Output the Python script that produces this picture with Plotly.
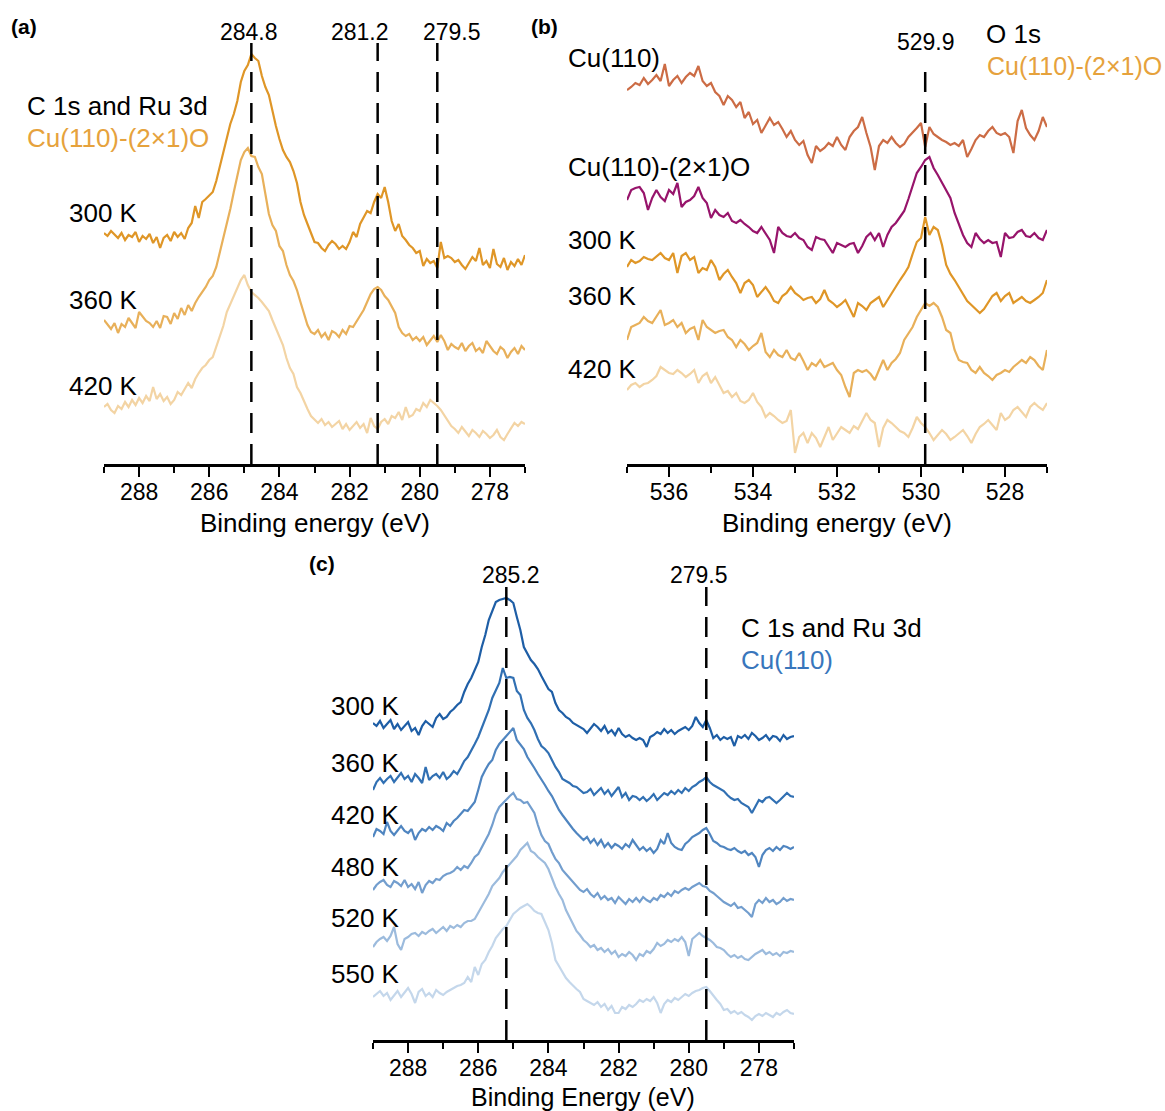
import numpy as np
import plotly.graph_objects as go

W, H = 1165, 1111
FONT = "Liberation Sans, Arial, Helvetica, sans-serif"

# Binding-energy grids (eV), sampled every 0.1 eV from high to low
E_C1S = np.round(np.linspace(289.0, 277.0, 121), 1)
E_O1S = np.round(np.linspace(537.0, 527.0, 101), 1)

# ---- (a) C 1s and Ru 3d, Cu(110)-(2x1)O, stacked intensity (arb. units)
A_300K = [231, 228, 233, 229, 226, 231, 224, 229, 227, 232,
          222, 228, 225, 230, 221, 227, 216, 226, 229, 223,
          232, 227, 231, 225, 236, 241, 258, 246, 262, 265,
          269, 272, 283, 298, 313, 327, 340, 350, 363, 382,
          393, 399, 410, 406, 403, 388, 377, 369, 352, 338,
          325, 314, 307, 302, 293, 281, 262, 249, 240, 230,
          222, 221, 216, 213, 219, 223, 220, 215, 218, 215,
          222, 232, 227, 240, 246, 253, 251, 262, 270, 266,
          277, 262, 243, 233, 240, 228, 224, 219, 216, 211,
          213, 198, 205, 201, 203, 196, 222, 206, 208, 206,
          202, 204, 199, 195, 201, 207, 203, 216, 199, 203,
          196, 215, 200, 197, 206, 194, 202, 198, 205, 199,
          209]
A_360K = [144, 139, 135, 141, 131, 140, 137, 146, 141, 136,
          152, 147, 143, 141, 137, 143, 136, 148, 147, 140,
          151, 145, 156, 149, 159, 153, 161, 167, 172, 177,
          184, 188, 197, 211, 226, 238, 255, 272, 287, 304,
          312, 316, 308, 307, 297, 290, 270, 250, 239, 233,
          218, 213, 199, 189, 183, 174, 162, 151, 139, 132,
          130, 134, 127, 131, 124, 133, 131, 127, 134, 130,
          138, 137, 143, 148, 154, 162, 170, 175, 177, 174,
          168, 164, 158, 151, 137, 131, 128, 130, 124, 127,
          123, 127, 119, 124, 128, 122, 129, 123, 114, 120,
          117, 115, 121, 113, 118, 121, 113, 116, 111, 123,
          118, 113, 110, 117, 114, 106, 112, 116, 110, 118,
          114]
A_420K = [57, 60, 54, 51, 58, 55, 62, 57, 64, 59,
          66, 61, 68, 63, 77, 65, 70, 63, 67, 60,
          64, 72, 69, 75, 81, 76, 85, 91, 96, 99,
          104, 107, 118, 128, 138, 152, 160, 168, 175, 184,
          189, 179, 172, 169, 166, 162, 158, 153, 144, 136,
          128, 119, 106, 96, 90, 77, 71, 62, 55, 48,
          44, 41, 45, 39, 42, 37, 40, 43, 35, 40,
          34, 38, 42, 36, 40, 31, 46, 38, 35, 42,
          45, 40, 48, 46, 52, 44, 57, 47, 49, 55,
          53, 61, 57, 64, 61, 58, 54, 49, 44, 38,
          35, 31, 37, 33, 28, 34, 31, 27, 33, 30,
          26, 29, 34, 27, 24, 30, 36, 41, 38, 42,
          40]

# ---- (b) O 1s, stacked intensity (arb. units)
B_CU110 = [374, 377, 381, 379, 386, 380, 384, 389, 383, 400,
           378, 384, 388, 381, 387, 391, 388, 398, 383, 378,
           381, 372, 368, 359, 368, 364, 357, 362, 346, 352,
           340, 344, 331, 338, 346, 339, 342, 335, 327, 333,
           324, 319, 323, 309, 301, 318, 313, 316, 321, 318,
           327, 319, 314, 327, 333, 337, 347, 331, 317, 294,
           318, 324, 321, 327, 321, 317, 320, 327, 331, 336,
           341, 317, 337, 330, 327, 324, 322, 319, 321, 318,
           324, 307, 315, 324, 329, 327, 333, 337, 331, 329,
           331, 327, 311, 343, 354, 336, 329, 324, 333, 347,
           337]
B_CU110_O = [264, 274, 276, 277, 271, 254, 266, 274, 267, 263,
             274, 270, 281, 257, 262, 264, 268, 277, 266, 261,
             246, 254, 249, 247, 251, 243, 241, 244, 240, 237,
             233, 231, 237, 230, 224, 211, 237, 231, 228, 227,
             231, 226, 224, 217, 214, 227, 225, 224, 218, 211,
             221, 219, 217, 220, 221, 211, 218, 227, 231, 224,
             231, 217, 229, 237, 241, 247, 253, 265, 279, 291,
             297, 304, 307, 296, 289, 281, 274, 266, 251, 240,
             229, 221, 217, 231, 225, 221, 224, 221, 222, 207,
             231, 226, 227, 232, 234, 228, 227, 231, 226, 224,
             234]
B_300K = [197, 204, 201, 203, 207, 205, 204, 208, 211, 206,
          204, 211, 191, 208, 211, 204, 207, 191, 196, 194,
          204, 197, 184, 190, 194, 187, 181, 171, 181, 184,
          179, 167, 172, 177, 171, 163, 161, 168, 171, 177,
          171, 168, 164, 166, 167, 161, 165, 174, 164, 161,
          157, 160, 164, 156, 147, 161, 158, 154, 161, 164,
          167, 157, 164, 171, 178, 184, 190, 197, 210, 222,
          226, 247, 229, 237, 234, 219, 199, 190, 184, 177,
          171, 163, 159, 155, 151, 155, 161, 168, 171, 163,
          168, 171, 161, 164, 167, 163, 161, 164, 167, 171,
          184]
B_360K = [124, 137, 139, 141, 147, 143, 141, 148, 154, 139,
          141, 144, 137, 141, 131, 135, 137, 124, 144, 137,
          134, 131, 133, 134, 127, 124, 117, 124, 120, 114,
          118, 121, 131, 112, 107, 114, 109, 107, 114, 106,
          104, 111, 103, 94, 101, 98, 104, 97, 99, 101,
          94, 89, 77, 67, 91, 94, 92, 94, 90, 84,
          94, 104, 94, 101, 105, 111, 124, 131, 137, 147,
          154, 161, 158, 161, 157, 147, 134, 131, 114, 104,
          102, 101, 94, 91, 97, 91, 88, 84, 89, 91,
          94, 92, 97, 101, 104, 101, 107, 104, 98, 94,
          114]
B_420K = [74, 79, 81, 77, 80, 81, 84, 88, 97, 94,
          91, 90, 94, 91, 87, 90, 94, 81, 88, 91,
          81, 87, 79, 71, 73, 67, 71, 63, 61, 64,
          71, 62, 57, 47, 51, 48, 44, 41, 43, 54,
          11, 27, 31, 21, 31, 26, 17, 28, 37, 24,
          31, 37, 34, 31, 38, 35, 43, 51, 44, 41,
          17, 36, 44, 41, 37, 33, 31, 27, 36, 47,
          41, 37, 31, 24, 29, 34, 30, 24, 27, 31,
          34, 28, 21, 30, 37, 40, 44, 39, 34, 51,
          44, 47, 54, 57, 52, 47, 57, 61, 57, 54,
          61]

# ---- (c) C 1s and Ru 3d, Cu(110), stacked intensity (arb. units)
C_300K = [317, 314, 319, 312, 316, 320, 311, 316, 310, 314,
          318, 309, 312, 305, 314, 319, 316, 313, 322, 326,
          321, 323, 328, 331, 335, 338, 348, 356, 362, 370,
          378, 393, 405, 420, 429, 438, 440, 441, 442, 440,
          437, 423, 410, 393, 387, 380, 376, 371, 364, 357,
          351, 348, 337, 330, 327, 323, 321, 317, 315, 313,
          311, 307, 312, 316, 313, 309, 314, 307, 310, 305,
          312, 306, 303, 305, 302, 300, 302, 300, 293, 303,
          305, 308, 306, 311, 307, 310, 306, 309, 311, 313,
          310, 314, 323, 317, 313, 320, 312, 302, 305, 300,
          303, 301, 303, 294, 304, 302, 305, 301, 307, 304,
          300, 302, 305, 300, 304, 303, 299, 305, 301, 303,
          304]
C_360K = [250, 258, 262, 257, 261, 264, 258, 263, 267, 261,
          264, 258, 266, 262, 257, 273, 260, 264, 266, 262,
          268, 261, 264, 269, 266, 272, 279, 283, 289, 296,
          303, 312, 320, 330, 342, 350, 357, 372, 362, 363,
          362, 349, 345, 330, 322, 317, 310, 301, 294, 291,
          287, 280, 273, 268, 261, 259, 257, 254, 253, 250,
          247, 248, 251, 245, 249, 252, 246, 250, 244, 249,
          253, 243, 247, 240, 244, 243, 240, 243, 239, 242,
          246, 240, 244, 247, 245, 249, 246, 250, 247, 252,
          249, 253, 255, 258, 260, 263, 258, 255, 253, 251,
          249, 245, 242, 240, 241, 237, 235, 233, 227, 234,
          240, 238, 242, 243, 240, 237, 240, 244, 247, 244,
          243]
C_420K = [203, 211, 209, 206, 218, 209, 205, 210, 214, 209,
          207, 211, 200, 207, 211, 209, 213, 210, 214, 212,
          209, 217, 214, 219, 222, 226, 230, 229, 234, 238,
          250, 263, 270, 276, 280, 290, 296, 300, 305, 309,
          312, 300, 296, 291, 283, 278, 272, 266, 261, 255,
          249, 244, 237, 230, 225, 220, 215, 211, 207, 203,
          200, 203, 197, 201, 195, 200, 193, 197, 192, 196,
          194, 191, 196, 193, 200, 195, 190, 193, 189, 192,
          187, 191, 200, 196, 207, 197, 193, 191, 190, 196,
          199, 203, 205, 207, 210, 212, 206, 199, 197, 194,
          193, 191, 190, 192, 189, 187, 189, 185, 187, 183,
          173, 185, 190, 192, 189, 193, 190, 194, 193, 191,
          193]
C_480K = [150, 155, 158, 160, 155, 153, 159, 157, 154, 160,
          153, 156, 151, 158, 147, 155, 159, 157, 161, 160,
          164, 166, 167, 169, 173, 170, 174, 172, 177, 183,
          186, 193, 199, 206, 215, 226, 233, 237, 240, 244,
          247, 241, 240, 237, 238, 233, 227, 215, 205, 199,
          196, 188, 181, 177, 170, 166, 162, 158, 155, 150,
          148, 151, 146, 143, 147, 141, 144, 140, 142, 137,
          143, 139, 136, 141, 138, 142, 138, 143, 140, 138,
          142, 140, 145, 143, 147, 144, 149, 147, 150, 152,
          150, 153, 155, 157, 154, 153, 149, 147, 144, 141,
          138, 136, 134, 137, 132, 133, 130, 127, 123, 136,
          140, 137, 142, 138, 140, 136, 138, 142, 139, 141,
          140]
C_520K = [93, 98, 101, 103, 99, 104, 113, 96, 90, 101,
          103, 106, 107, 104, 108, 106, 109, 111, 107, 110,
          113, 109, 114, 112, 115, 113, 117, 119, 119, 121,
          127, 133, 140, 146, 154, 158, 162, 168, 172, 177,
          181, 184, 190, 194, 197, 189, 187, 183, 180, 177,
          171, 161, 153, 146, 140, 130, 123, 115, 109, 105,
          100, 97, 93, 95, 90, 92, 88, 91, 86, 89,
          83, 86, 84, 88, 85, 80, 86, 84, 89, 87,
          91, 97, 94, 96, 100, 98, 101, 99, 103, 98,
          84, 101, 104, 107, 104, 102, 100, 97, 93, 92,
          90, 86, 83, 85, 82, 84, 81, 80, 83, 86,
          88, 90, 86, 88, 85, 87, 84, 88, 87, 89,
          88]
C_550K = [43, 46, 49, 44, 47, 40, 45, 49, 43, 47,
          52, 46, 37, 48, 51, 44, 47, 43, 50, 47,
          45, 48, 50, 52, 54, 55, 57, 63, 58, 73,
          65, 76, 80, 88, 94, 102, 107, 111, 114, 120,
          126, 129, 132, 134, 136, 133, 129, 127, 126, 118,
          110, 97, 80, 74, 68, 62, 58, 54, 51, 48,
          41, 39, 37, 35, 38, 33, 36, 30, 34, 27,
          27, 33, 31, 35, 33, 36, 40, 38, 41, 39,
          43, 37, 27, 36, 40, 38, 42, 40, 43, 46,
          44, 47, 49, 50, 52, 53, 49, 44, 40, 36,
          30, 31, 27, 29, 26, 28, 25, 23, 20, 24,
          26, 24, 27, 25, 23, 27, 25, 28, 30, 27,
          26]

# Marked peak positions (eV)
PEAKS_A = [284.8, 281.2, 279.5]
PEAKS_B = [529.9]
PEAKS_C = [285.2, 279.5]

TEMPS_A = ["300 K", "360 K", "420 K"]
TEMPS_B = ["300 K", "360 K", "420 K"]
TEMPS_C = ["300 K", "360 K", "420 K", "480 K", "520 K", "550 K"]

ORANGES = ["#DF9627", "#E8B05A", "#F3D4A4"]
SALMON = "#CC6C45"
PURPLE = "#97146B"
BLUES = ["#1E5EA6", "#3170B3", "#4F85C0", "#739ECE", "#9CBBDD", "#C4D7EB"]
LABEL_ORANGE = "#E6A23C"
LABEL_BLUE = "#3876BC"

# Pixel geometry of the three panels: (left, right, top, axis line)
PANEL_A = (104, 525, 30, 464)
PANEL_B = (627, 1047, 30, 464)
PANEL_C = (373, 794, 580, 1040)


def xdom(p):
    return [p[0] / W, p[1] / W]


def ydom(p):
    return [1 - p[3] / H, 1 - p[2] / H]


fig = go.Figure()


def add_curve(x, y, color, ax):
    if len(x) != len(y):
        raise ValueError("length mismatch")
    fig.add_trace(go.Scatter(
        x=x, y=y, mode="lines", xaxis="x" + ax, yaxis="y" + ax,
        line=dict(color=color, width=2.2), hoverinfo="skip", showlegend=False))


for vals, col in zip([A_300K, A_360K, A_420K], ORANGES):
    add_curve(E_C1S, vals, col, "")
for vals, col in zip([B_CU110, B_CU110_O, B_300K, B_360K, B_420K],
                     [SALMON, PURPLE] + ORANGES):
    add_curve(E_O1S, vals, col, "2")
for vals, col in zip([C_300K, C_360K, C_420K, C_480K, C_520K, C_550K], BLUES):
    add_curve(E_C1S, vals, col, "3")

# Dashed guides at the marked peaks
shapes = []
for ax, peaks, top in [("", PEAKS_A, 421), ("2", PEAKS_B, 401), ("3", PEAKS_C, 453)]:
    for e in peaks:
        shapes.append(dict(type="line", xref="x" + ax, yref="y" + ax,
                           x0=e, x1=e, y0=0, y1=top,
                           line=dict(color="black", width=2.5, dash="20px,11px")))

annotations = []


def label(text, x, y, anchor="left", size=26, color="black", bold=False):
    if bold:
        text = "<b>" + text + "</b>"
    annotations.append(dict(
        text=text, x=x / W, y=1 - y / H, xref="paper", yref="paper",
        xanchor=anchor, yanchor="middle", showarrow=False,
        font=dict(family=FONT, size=size, color=color)))


# Panel (a)
label("(a)", 9, 27, size=21, bold=True)
for e, cx in zip(PEAKS_A, [249, 360, 452]):
    label(f"{e:.1f}", cx, 32, anchor="center", size=23)
label("C 1s and Ru 3d", 25, 106)
label("Cu(110)-(2×1)O", 25, 138, color=LABEL_ORANGE)
for t, y in zip(TEMPS_A, [213, 300, 386]):
    label(t, 67, y)
label("Binding energy (eV)", 314.5, 523, anchor="center")

# Panel (b)
label("(b)", 529, 27, size=21, bold=True)
label(f"{PEAKS_B[0]:.1f}", 926, 42, anchor="center", size=23)
label("O 1s", 984, 34)
label("Cu(110)-(2×1)O", 1164, 66, anchor="right", size=25, color=LABEL_ORANGE)
label("Cu(110)", 566, 58)
label("Cu(110)-(2×1)O", 566, 167)
for t, y in zip(TEMPS_B, [240, 296, 369]):
    label(t, 566, y)
label("Binding energy (eV)", 837, 523, anchor="center")

# Panel (c)
label("(c)", 307, 563, size=21, bold=True)
for e, cx in zip(PEAKS_C, [511, 699]):
    label(f"{e:.1f}", cx, 575, anchor="center", size=23)
label("C 1s and Ru 3d", 739, 628)
label("Cu(110)", 739, 660, color=LABEL_BLUE)
for t, y in zip(TEMPS_C, [706, 763, 815, 867, 918, 974]):
    label(t, 329, y)
label("Binding Energy (eV)", 583.5, 1097, anchor="center", size=25)


def xaxis_style(panel, rng, major0, minor0):
    return dict(
        domain=xdom(panel), range=rng, showline=True, linecolor="black",
        linewidth=2.5, ticks="outside", ticklen=10, tickwidth=2,
        tickcolor="black", tick0=major0, dtick=2, showgrid=False,
        zeroline=False, fixedrange=True, ticklabelstandoff=-4,
        tickfont=dict(family=FONT, size=23, color="black"),
        minor=dict(tick0=minor0, dtick=1, ticks="outside", ticklen=6,
                   tickwidth=2, tickcolor="black", showgrid=False))


def yaxis_style(panel, anchor):
    return dict(domain=ydom(panel), range=[0, panel[3] - panel[2]],
                visible=False, fixedrange=True, anchor=anchor)


fig.update_layout(
    width=W, height=H, margin=dict(l=0, r=0, t=0, b=0),
    paper_bgcolor="white", plot_bgcolor="white",
    xaxis=dict(anchor="y", **xaxis_style(PANEL_A, [289, 277], 288, 289)),
    yaxis=yaxis_style(PANEL_A, "x"),
    xaxis2=dict(anchor="y2", **xaxis_style(PANEL_B, [537, 527], 536, 537)),
    yaxis2=yaxis_style(PANEL_B, "x2"),
    xaxis3=dict(anchor="y3", **xaxis_style(PANEL_C, [289, 277], 288, 289)),
    yaxis3=yaxis_style(PANEL_C, "x3"),
    shapes=shapes, annotations=annotations, showlegend=False,
)

fig.write_html("out.html")
